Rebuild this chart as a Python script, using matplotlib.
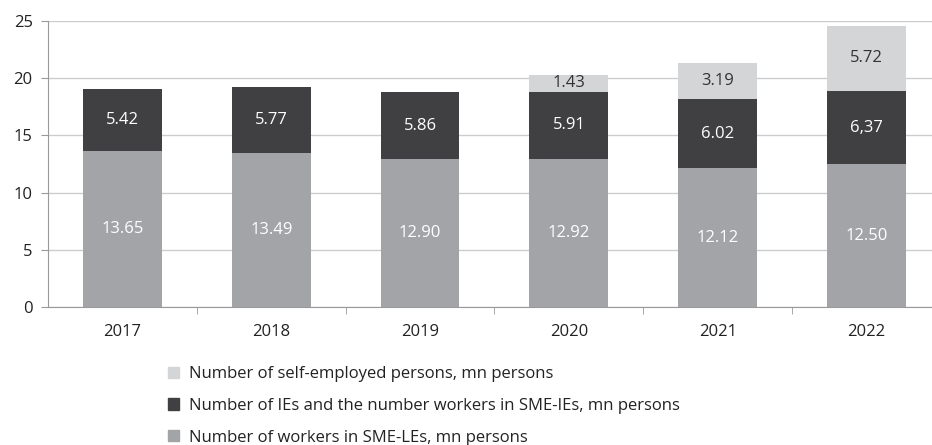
import matplotlib.pyplot as plt
import numpy as np
from matplotlib.patches import Patch

plt.rcParams['font.family'] = ['Open Sans', 'DejaVu Sans']

years = ['2017', '2018', '2019', '2020', '2021', '2022']
sme_le = [13.65, 13.49, 12.90, 12.92, 12.12, 12.50]
ies = [5.42, 5.77, 5.86, 5.91, 6.02, 6.37]
self_emp = [0, 0, 0, 1.43, 3.19, 5.72]

le_labels = ['13.65', '13.49', '12.90', '12.92', '12.12', '12.50']
ie_labels = ['5.42', '5.77', '5.86', '5.91', '6.02', '6,37']
se_labels = ['', '', '', '1.43', '3.19', '5.72']

legend_names = ['Number of self-employed persons, mn persons',
                'Number of IEs and the number workers in SME-IEs, mn persons',
                'Number of workers in SME-LEs, mn persons']

c_le = '#a3a4a7'
c_ie = '#404042'
c_se = '#d4d5d7'

FS = 12

fig = plt.figure(figsize=(9.32, 4.45), dpi=100)
ax = fig.add_axes([48/932, 1 - 307/445, 1 - 48/932, (307 - 21)/445])

ind = np.arange(len(years))
w = 0.53
le = np.array(sme_le)
ie = np.array(ies)
se = np.array(self_emp)

ax.bar(ind, le, w, color=c_le, zorder=3)
ax.bar(ind, ie, w, bottom=le, color=c_ie, zorder=3)
ax.bar(ind, se, w, bottom=le + ie, color=c_se, zorder=3)

for i in ind:
  ax.text(i, le[i] / 2, le_labels[i], ha='center', va='center', color='white', fontsize=FS, zorder=4)
  ax.text(i, le[i] + ie[i] / 2, ie_labels[i], ha='center', va='center', color='white', fontsize=FS, zorder=4)
  if se[i] > 0:
    ax.text(i, le[i] + ie[i] + se[i] / 2, se_labels[i], ha='center', va='center', color='#333333', fontsize=FS, zorder=4)

ax.set_xlim(-0.5, 5.44)
ax.set_ylim(0, 25)
ax.set_yticks(np.arange(0, 26, 5))
ax.set_xticks(ind)
ax.set_xticklabels(years)
ax.set_xticks(np.arange(0.5, 5.5, 1), minor=True)
ax.tick_params(axis='x', which='major', length=0, pad=12, labelsize=FS, labelcolor='#222222')
ax.tick_params(axis='x', which='minor', length=5, color='#999999', direction='out')
ax.tick_params(axis='y', length=5, color='#999999', labelsize=FS, labelcolor='#222222', pad=6)
ax.grid(axis='y', color='#cccccc', linewidth=1, zorder=0)
for s in ['top', 'right']:
  ax.spines[s].set_visible(False)
ax.spines['left'].set_color('#999999')
ax.spines['bottom'].set_color('#999999')

handles = [Patch(color=c_se), Patch(color=c_ie), Patch(color=c_le)]
fig.legend(handles, legend_names, loc='upper left', bbox_to_anchor=(168/932, 1 - 366/445),
           frameon=False, fontsize=FS, handlelength=0.65, handleheight=0.65,
           handletextpad=0.6, labelspacing=0.95, borderaxespad=0, borderpad=0,
           labelcolor='#222222')

fig.savefig('out.png', dpi=100)
